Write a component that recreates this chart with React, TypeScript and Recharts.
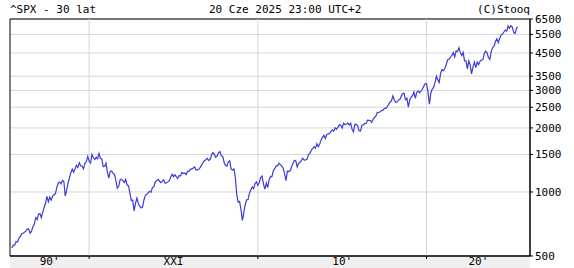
import {
  CartesianGrid,
  Line,
  LineChart,
  ReferenceArea,
  ReferenceLine,
  XAxis,
  YAxis,
} from "recharts";

// monthly closes, June 1995 .. June 2025
const FIRST_MONTH = 1995 + 5 / 12;

const closes1995to1999 = [
  545, 562, 562, 584, 582, 605, 616,
  636, 640, 646, 654, 669, 671, 640, 652, 687, 705, 757, 741,
  786, 791, 757, 801, 848, 885, 954, 899, 947, 915, 955, 970,
  980, 1049, 1102, 1112, 1091, 1134, 1121, 957, 1017, 1099, 1164, 1229,
  1280, 1238, 1286, 1335, 1302, 1373, 1329, 1320, 1283, 1363, 1389, 1469,
];
const closes2000to2004 = [
  1394, 1366, 1499, 1452, 1421, 1455, 1431, 1518, 1437, 1429, 1315, 1320,
  1366, 1240, 1160, 1249, 1256, 1224, 1211, 1134, 1041, 1060, 1139, 1148,
  1130, 1107, 1147, 1077, 1067, 990, 912, 916, 815, 886, 936, 880,
  856, 841, 848, 917, 964, 975, 990, 1008, 996, 1051, 1058, 1112,
  1131, 1145, 1126, 1107, 1121, 1141, 1102, 1104, 1115, 1130, 1174, 1212,
];
const closes2005to2009 = [
  1181, 1204, 1181, 1157, 1192, 1191, 1234, 1220, 1229, 1207, 1249, 1248,
  1280, 1281, 1295, 1311, 1270, 1270, 1277, 1304, 1336, 1378, 1401, 1418,
  1438, 1407, 1421, 1482, 1531, 1503, 1455, 1474, 1527, 1549, 1481, 1468,
  1379, 1331, 1323, 1386, 1400, 1280, 1267, 1283, 1166, 969, 896, 903,
  826, 735, 798, 873, 919, 919, 987, 1021, 1057, 1036, 1096, 1115,
];
const closes2010to2014 = [
  1074, 1104, 1169, 1187, 1089, 1031, 1102, 1049, 1141, 1183, 1181, 1258,
  1286, 1327, 1326, 1364, 1345, 1321, 1292, 1219, 1131, 1253, 1247, 1258,
  1312, 1366, 1408, 1398, 1310, 1362, 1379, 1407, 1441, 1412, 1416, 1426,
  1498, 1515, 1569, 1598, 1631, 1606, 1686, 1633, 1682, 1757, 1806, 1848,
  1783, 1859, 1872, 1884, 1924, 1960, 1931, 2003, 1972, 2018, 2068, 2059,
];
const closes2015to2019 = [
  1995, 2105, 2068, 2086, 2107, 2063, 2104, 1972, 1920, 2079, 2080, 2044,
  1940, 1932, 2060, 2065, 2097, 2099, 2174, 2171, 2168, 2126, 2199, 2239,
  2279, 2364, 2363, 2384, 2412, 2423, 2470, 2472, 2519, 2575, 2648, 2674,
  2824, 2714, 2641, 2648, 2705, 2718, 2816, 2902, 2914, 2712, 2760, 2507,
  2704, 2784, 2834, 2946, 2752, 2942, 2980, 2926, 2977, 3038, 3141, 3231,
];
const closes2020to2025 = [
  3226, 2954, 2585, 2912, 3044, 3100, 3271, 3500, 3363, 3270, 3622, 3756,
  3714, 3811, 3973, 4181, 4204, 4298, 4395, 4523, 4308, 4605, 4567, 4766,
  4516, 4374, 4530, 4132, 4132, 3785, 4130, 3955, 3586, 3872, 4080, 3840,
  4077, 3970, 4109, 4169, 4180, 4450, 4589, 4508, 4288, 4194, 4568, 4770,
  4846, 5096, 5254, 5036, 5278, 5460, 5522, 5648, 5762, 5705, 6032, 5882,
  6041, 5955, 5612, 5569, 5912, 5968,
];

const decadeTicks = [2000, 2010, 2020];
const eraCenters = [1997.66, 2005, 2015, 2023.07];
const eraLabels = ["90'", "XXI", "10'", "20'"];
const priceTicks = [500, 1000, 1500, 2000, 2500, 3000, 3500, 4500, 5500, 6500];
const xDomain: [number, number] = [1995.31, 2026.13];
const yDomain: [number, number] = [500, 6500];

const closes = [
  ...closes1995to1999,
  ...closes2000to2004,
  ...closes2005to2009,
  ...closes2010to2014,
  ...closes2015to2019,
  ...closes2020to2025,
];
const data = closes.map((close, i) => ({ t: FIRST_MONTH + i / 12, close }));

const FONT = "'DejaVu Sans Mono', monospace";

function EraTick(props: any) {
  const { x, y, payload } = props;
  const idx = eraCenters.indexOf(payload.value);
  if (idx < 0) {
    return <line x1={x} x2={x} y1={y} y2={y + 3} stroke="#000" />;
  }
  return (
    <text
      x={x}
      y={y}
      dy={9}
      textAnchor="middle"
      fontFamily={FONT}
      fontSize={11}
      fill="#000"
    >
      {eraLabels[idx]}
    </text>
  );
}

export default function App() {
  return (
    <div
      style={{
        position: "absolute",
        left: 0,
        top: 0,
        width: 574,
        height: 268,
        background: "#fff",
      }}
    >
      <div
        style={{
          position: "absolute",
          left: 10,
          top: 256,
          width: 520,
          height: 12,
          background: "#efefef",
        }}
      />
      <svg
        width={574}
        height={18}
        style={{ position: "absolute", left: 0, top: 0 }}
        fontFamily={FONT}
        fontSize={11}
      >
        <text x={10} y={13} fill="#000">
          ^SPX - 30 lat
        </text>
        <text x={209} y={13} fill="#000">
          20 Cze 2025 23:00 UTC+2
        </text>
        <text x={530} y={13} textAnchor="end" fill="#000">
          (C)Stooq
        </text>
      </svg>
      <div style={{ position: "absolute", left: 0, top: 0 }}>
        <LineChart
          width={574}
          height={268}
          data={data}
          margin={{ top: 19, right: 0, bottom: 0, left: 10 }}
        >
          <CartesianGrid vertical={false} stroke="#d6d6d6" />
          {decadeTicks.map((d) => (
            <ReferenceLine key={d} x={d} stroke="#d6d6d6" />
          ))}
          <XAxis
            dataKey="t"
            type="number"
            domain={xDomain}
            allowDataOverflow
            ticks={[...decadeTicks, ...eraCenters]}
            interval={0}
            tick={<EraTick />}
            tickLine={false}
            tickSize={0}
            tickMargin={0}
            axisLine={{ stroke: "#000" }}
            height={12}
          />
          <YAxis
            orientation="right"
            scale="log"
            type="number"
            domain={yDomain}
            allowDataOverflow
            ticks={priceTicks}
            interval={0}
            width={44}
            tickSize={3}
            tickMargin={2}
            tickLine={{ stroke: "#000" }}
            axisLine={{ stroke: "#000" }}
            tick={{ fontFamily: FONT, fontSize: 11, fill: "#000" }}
          />
          <Line
            dataKey="close"
            type="linear"
            stroke="#3b3bd6"
            strokeWidth={1.2}
            dot={false}
            isAnimationActive={false}
          />
          <ReferenceArea
            x1={xDomain[0]}
            x2={xDomain[1]}
            y1={yDomain[0]}
            y2={yDomain[1]}
            fill="none"
            stroke="#000"
            strokeWidth={1}
          />
        </LineChart>
      </div>
    </div>
  );
}
